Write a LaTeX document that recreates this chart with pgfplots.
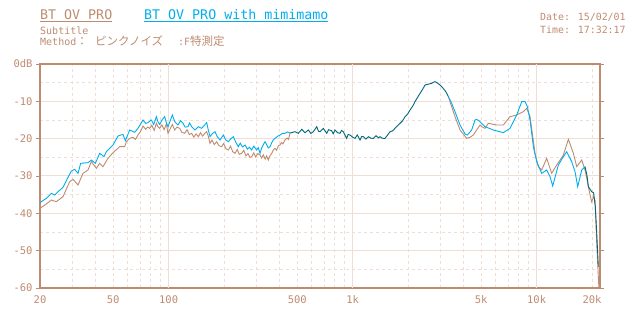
\documentclass[border=0pt]{standalone}
\usepackage{pgfplots}
\pgfplotsset{compat=1.18}
\usepackage{fontspec}
\setmainfont{DejaVu Sans Mono}
\newfontfamily\cjk{Noto Sans CJK JP}
\definecolor{brn}{HTML}{BF8B70}
\definecolor{blu}{HTML}{00AEEF}
\definecolor{tea}{HTML}{00687A}
\definecolor{grd}{HTML}{F0DED5}
\begin{document}
\begin{tikzpicture}[x=1pt,y=1pt]
\useasboundingbox (0,0) rectangle (640,320);
\begin{axis}[at={(40pt,32pt)}, anchor=south west, scale only axis,
  width=560pt, height=224pt,
  xmode=log, xmin=20, xmax=22100, ymin=-60, ymax=0,
  axis line style={brn, line width=2.4pt},
  xtick={20,50,100,500,1000,5000,10000,20000},
  xticklabels={20,50,100,500,1k,5k,10k,20k},
  minor xtick={30,40,50,60,70,80,90,200,300,400,500,600,700,800,900,2000,3000,4000,5000,6000,7000,8000,9000,20000},
  extra x ticks={100,1000,10000}, extra x tick labels={},
  extra x tick style={grid=major, major grid style={grd, line width=1pt}, tick style={draw=none}},
  xminorgrids=true,
  ytick={-60,-50,-40,-30,-20,-10,0},
  yticklabels={-60,-50,-40,-30,-20,-10,0dB},
  minor ytick={-55,-45,-35,-25,-15,-5},
  ymajorgrids=true, yminorgrids=true,
  major grid style={grd, line width=1pt},
  minor grid style={grd, line width=0.8pt, dash pattern=on 3pt off 3pt},
  tick align=outside, major tick length=4pt, minor tick length=0pt,
  xtick style={draw=none}, ytick style={brn, line width=0.8pt},
  ticklabel style={text=brn, font=\fontsize{10.5}{11}\selectfont},
  clip=false,
]
% brown: BT OV PRO (low part)
\addplot[brn, line width=0.9pt] coordinates {
(20,-38.6) (20.34,-38.39) (21.65,-37.50) (23.04,-36.43) (24.53,-36.88) (26.67,-35.54)
(29.0,-31.52) (30.23,-30.90) (32.18,-32.41) (34.25,-29.29) (36.47,-28.40) (38.02,-26.16)
(40.48,-27.95) (42.20,-26.61) (44.0,-27.50) (46.84,-25.27) (49.86,-23.75) (54.21,-22.15)
(57.71,-22.15) (58.92,-20.81) (61.5,-19.9) (64.03,-19.64) (66,-20.2) (68.18,-19.02)
(70.5,-18.0) (72.58,-16.61) (75,-17.5) (77,-16.9) (78.89,-17.23) (81,-16.4) (83.5,-17.8)
(85.75,-15.89) (87.5,-16.8) (89.41,-17.23) (92,-16.3) (94.5,-17.6) (97.19,-16.07)
(99.25,-18.57) (102,-17.3) (104.8,-16.2) (107.9,-17.68) (111,-16.9) (114.8,-17.23)
(118,-18.3) (122.3,-18.57) (126,-17.6) (129.5,-18.9) (133.5,-18.57) (137,-19.6)
(141,-18.7) (145.1,-19.47) (149,-18.4) (153,-19.3) (157,-18.6) (161.0,-18.13)
(164,-19.2) (167.9,-21.25) (172,-20.4) (177,-21.6) (182.5,-20.81) (188,-21.9)
(194.2,-22.15) (199,-21.3) (205,-22.7) (211.2,-23.04) (217,-22.0) (223,-23.5)
(229.5,-23.93) (236,-22.9) (242,-24.2) (249.5,-23.93) (256,-23.1) (263,-24.6)
(270,-24.0) (276,-25.0) (282.8,-24.82) (290,-23.8) (297,-24.9) (305,-24.0)
(313.8,-24.38) (320,-25.2) (327,-24.3) (335,-25.5) (341,-24.6) (348.2,-25.72)
(355,-24.6) (363,-24.0) (370.8,-23.04) (378,-22.6) (386,-23.1) (395,-21.9)
(403,-21.70) (410,-21.0) (418,-21.4) (429,-20.36) (440,-19.8) (448,-20.2) (457,-18.5)
};
% brown (high part)
\addplot[brn, line width=0.9pt] coordinates {
(3314,-8.75) (3454,-11.43) (3602,-14.11) (3834,-17.68) (4168,-19.91) (4350,-19.6)
(4530,-19.02) (4925,-16.34) (5029,-16.79) (5243,-17.23) (5466,-15.89) (6066,-16.34)
(6594,-16.34) (7168,-14.11) (7792,-13.66) (8469,-12.77) (8830,-11.88) (9207,-14.11)
(9801,-23.93) (10218,-27.50) (10653,-28.39) (11341,-25.27) (12074,-29.29)
(12853,-27.06) (13973,-24.38) (14878,-20.18) (15836,-23.93) (16510,-27.50)
(17578,-25.72) (18324,-28.39) (18800,-31.0) (19104,-32.86) (19500,-35.0)
(19917,-36.9) (20400,-35.5) (20766,-36.5) (21210,-48.0) (21640,-57) (21800,-60)
};
% blue: BT OV PRO with mimimamo (low part)
\addplot[blu, line width=0.9pt] coordinates {
(20,-37.2) (20.34,-36.88) (21.65,-35.98) (23.04,-34.64) (24.03,-35.09) (25.05,-34.20)
(26.67,-33.04) (28.39,-30.36) (29.61,-28.66) (30.87,-28.22) (32.18,-29.29)
(33.27,-26.61) (36.47,-26.43) (38.02,-25.72) (39.97,-26.61) (42.20,-23.93)
(44.55,-24.82) (45.87,-23.49) (49.86,-21.70) (53.07,-19.29) (56.50,-18.84)
(58.18,-20.54) (61.43,-17.68) (65.40,-18.30) (68.18,-17.23) (72.58,-15.00)
(75,-15.9) (77.27,-15.72) (80.56,-15.00) (83,-16.2) (85.75,-14.11) (87.5,-15.5)
(89.41,-16.16) (92,-15.0) (95.18,-14.11) (97,-15.6) (99.25,-16.79) (102,-15.2)
(104.79,-13.66) (108,-15.5) (112.47,-16.34) (116,-15.2) (119.74,-15.89) (123,-16.9)
(127.47,-16.79) (130,-15.8) (133.5,-16.79) (139.1,-17.68) (145,-16.8) (151.2,-17.23)
(156,-16.5) (161.0,-15.72) (164,-17.5) (167.9,-19.47) (173,-18.6) (178.7,-18.13)
(184,-19.5) (190.2,-20.36) (198.3,-19.02) (204,-20.3) (211.2,-20.81) (218,-20.0)
(224.7,-19.47) (232,-21.0) (239.3,-22.15) (245,-21.2) (252,-22.2) (260.1,-21.70)
(268,-22.8) (275,-22.3) (282.8,-23.04) (290,-22.0) (301.0,-23.04) (307,-22.4)
(313.8,-23.93) (320,-22.6) (327,-21.6) (334.1,-20.81) (342,-21.7) (348,-22.5)
(355.7,-22.15) (364,-21.0) (371,-20.3) (378.6,-19.91) (390,-19.4) (403,-19.02)
(416,-18.6) (429,-18.57) (443,-18.2) (457,-18.5)
};
% blue (high part)
\addplot[blu, line width=0.9pt] coordinates {
(3314,-8.75) (3454,-10.54) (3602,-12.77) (3834,-16.34) (4082,-18.75) (4202,-19.02)
(4436,-17.68) (4626,-15.00) (4723,-14.82) (4925,-15.45) (5243,-16.79) (5818,-17.68)
(6594,-18.39) (7168,-17.23) (7792,-13.66) (8296,-10.09) (8649,-10.09) (8906,-11.43)
(9207,-15.00) (9598,-22.15) (10008,-26.16) (10653,-29.29) (11341,-28.39)
(11825,-30.18) (12226,-32.68) (13122,-27.06) (13973,-24.82) (14570,-23.49)
(15508,-26.16) (16168,-28.84) (16718,-32.86) (17578,-28.39) (18324,-27.50)
};
% overlap of both curves
\addplot[tea, line width=0.9pt] coordinates {
(457,-18.5) (486,-18.13) (507,-18.57) (529,-17.50) (551,-18.40) (575,-17.68)
(593,-18.6) (612,-18.13) (638,-16.79) (652,-18.0) (665,-18.13) (693,-17.23)
(723,-18.57) (740,-17.6) (769,-17.86) (785,-18.7) (802,-17.68) (828,-18.4)
(854,-18.57) (870,-17.8) (890,-18.13) (928,-19.91) (945,-18.9) (968,-19.02)
(1000,-19.6) (1030,-19.91) (1060,-19.0) (1097,-20.36) (1120,-19.4) (1143,-19.47)
(1180,-20.1) (1220,-19.47) (1260,-19.9) (1296,-19.91) (1340,-19.2) (1380,-19.8)
(1409,-19.47) (1450,-19.9) (1500,-19.91) (1550,-19.0) (1597,-18.13) (1650,-17.9)
(1700,-17.23) (1750,-16.6) (1810,-15.89) (1870,-15.2) (1926,-14.11) (1990,-13.4)
(2051,-12.32) (2120,-11.3) (2183,-10.09) (2250,-9.0) (2324,-7.86) (2400,-6.8)
(2474,-5.63) (2580,-5.4) (2690,-5.18) (2750,-4.9) (2804,-4.73) (2890,-5.1)
(2985,-5.63) (3080,-6.3) (3178,-7.14) (3250,-7.9) (3314,-8.75)
};
\addplot[tea, line width=0.9pt] coordinates {
(18324,-27.50) (18800,-30.0) (19104,-32.86) (19917,-34.2) (20400,-34.5)
(20840,-38.2) (21210,-45.3) (21640,-54.3)
};
\end{axis}
% header texts
\node[anchor=base west, inner sep=0, text=brn, font=\fontsize{13.3}{14}\selectfont] at (40,300.5) {BT OV PRO};
\draw[brn, line width=0.8pt] (40,298.3) -- (112,298.3);
\node[anchor=base west, inner sep=0, text=blu, font=\fontsize{13.3}{14}\selectfont] at (144,300.5) {BT OV PRO with mimimamo};
\draw[blu, line width=0.8pt] (144,298.3) -- (328,298.3);
\node[anchor=base west, inner sep=0, text=brn, font=\fontsize{10}{11}\selectfont] at (40,285.7) {Subtitle};
\node[anchor=base west, inner sep=0, text=brn, font=\fontsize{10}{11}\selectfont] at (40,274) {Method{\cjk\fontsize{11.5}{12}\selectfont ：}};
\node[anchor=base west, inner sep=0, text=brn, font=\cjk\fontsize{11.5}{12}\selectfont] at (95,274) {ピンクノイズ};
\node[anchor=base west, inner sep=0, text=brn, font=\fontsize{10}{11}\selectfont] at (178,274) {:F{\cjk\fontsize{11.5}{12}\selectfont 特測定}};
\node[anchor=base west, inner sep=0, text=brn, font=\fontsize{9.9}{11}\selectfont] at (540,299.3) {Date: 15/02/01};
\node[anchor=base west, inner sep=0, text=brn, font=\fontsize{9.9}{11}\selectfont] at (540,286) {Time: 17:32:17};
\end{tikzpicture}
\end{document}
